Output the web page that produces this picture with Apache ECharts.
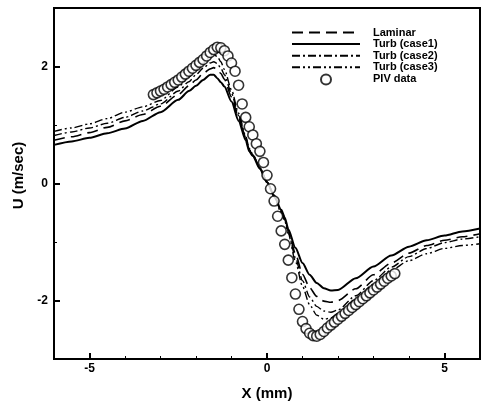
<!DOCTYPE html>
<html>
<head>
<meta charset="utf-8">
<script src="https://cdn.jsdelivr.net/npm/echarts@6/dist/echarts.min.js"></script>
<style>
  html, body { margin: 0; padding: 0; background: #fff; }
  #chart { width: 482px; height: 408px; }
</style>
</head>
<body>
<div id="chart"></div>
<script>
// x positions (mm) shared by the four computed profiles
const lineX = [-6, -5.5, -5, -4.5, -4, -3.5, -3, -2.5, -2.2, -2, -1.8, -1.6, -1.5, -1.4, -1.3, -1.2, -1.0, -0.8, -0.6, -0.5,
  -0.4, -0.2, 0, 0.2, 0.4, 0.5, 0.6, 0.8, 1.0, 1.2, 1.4, 1.6, 1.8, 2.0, 2.5, 3.0, 3.5, 4.0, 4.5, 5.0, 5.5, 6.0]

const laminarY = [0.74, 0.80, 0.87, 0.96, 1.07, 1.18, 1.32, 1.52, 1.67, 1.77, 1.88, 1.96, 1.98, 1.95, 1.88, 1.78, 1.48, 1.12, 0.77, 0.57,
  0.48, 0.26, 0.03, -0.21, -0.47, -0.60, -0.80, -1.20, -1.55, -1.78, -1.93, -2.01, -2.03, -2.00, -1.80, -1.56, -1.36, -1.19, -1.06, -0.97, -0.91, -0.86]

const case1Y = [0.66, 0.72, 0.78, 0.86, 0.94, 1.07, 1.22, 1.43, 1.58, 1.67, 1.77, 1.86, 1.86, 1.80, 1.73, 1.66, 1.40, 1.07, 0.74, 0.55,
  0.47, 0.25, 0.02, -0.20, -0.45, -0.58, -0.78, -1.10, -1.36, -1.56, -1.70, -1.79, -1.83, -1.82, -1.62, -1.42, -1.23, -1.08, -0.97, -0.89, -0.82, -0.77]

const case2Y = [0.82, 0.88, 0.95, 1.03, 1.13, 1.24, 1.36, 1.58, 1.74, 1.86, 1.97, 2.06, 2.08, 2.05, 1.97, 1.86, 1.54, 1.16, 0.79, 0.58,
  0.49, 0.27, 0.03, -0.22, -0.48, -0.62, -0.83, -1.27, -1.66, -1.94, -2.10, -2.18, -2.20, -2.16, -1.92, -1.66, -1.43, -1.25, -1.11, -1.01, -0.95, -0.91]

const case3Y = [0.89, 0.95, 1.02, 1.11, 1.22, 1.31, 1.42, 1.65, 1.82, 1.95, 2.07, 2.17, 2.20, 2.17, 2.08, 1.95, 1.60, 1.20, 0.81, 0.60,
  0.50, 0.27, 0.03, -0.23, -0.50, -0.64, -0.86, -1.33, -1.76, -2.07, -2.25, -2.32, -2.30, -2.22, -1.98, -1.72, -1.48, -1.32, -1.20, -1.11, -1.06, -1.03]

// PIV measurements
const pivX = [-3.2, -3.1, -3.0, -2.9, -2.8, -2.7, -2.6, -2.5, -2.4, -2.3, -2.2, -2.1, -2.0, -1.9, -1.8, -1.7, -1.6, -1.5, -1.4, -1.3,
  -1.2, -1.1, -1.0, -0.9, -0.8, -0.7, -0.6, -0.5, -0.4, -0.3, -0.2, -0.1, 0.0, 0.1, 0.2, 0.3, 0.4, 0.5, 0.6, 0.7,
  0.8, 0.9, 1.0, 1.1, 1.2, 1.3, 1.4, 1.5, 1.6, 1.7, 1.8, 1.9, 2.0, 2.1, 2.2, 2.3, 2.4, 2.5, 2.6, 2.7,
  2.8, 2.9, 3.0, 3.1, 3.2, 3.3, 3.4, 3.5, 3.6]
const pivY = [1.52, 1.55, 1.58, 1.61, 1.65, 1.69, 1.73, 1.77, 1.82, 1.87, 1.92, 1.97, 2.02, 2.07, 2.12, 2.18, 2.24, 2.29, 2.33, 2.32,
  2.27, 2.18, 2.06, 1.92, 1.68, 1.36, 1.13, 0.97, 0.83, 0.68, 0.55, 0.36, 0.14, -0.09, -0.30, -0.56, -0.81, -1.04, -1.31, -1.61,
  -1.89, -2.15, -2.36, -2.48, -2.56, -2.60, -2.61, -2.58, -2.53, -2.47, -2.42, -2.37, -2.32, -2.27, -2.22, -2.17, -2.12, -2.07, -2.02, -1.97,
  -1.92, -1.87, -1.82, -1.77, -1.72, -1.67, -1.62, -1.58, -1.54]

// ticks
const xMajor = [-5, 0, 5]
const xMinor = [-4, -3, -2, -1, 1, 2, 3, 4]
const yMajor = [-2, 0, 2]
const yMinor = [-1, 1]

const font = 'Liberation Sans, Arial, Helvetica, sans-serif'
const pairs = (xs, ys) => xs.map((x, i) => [x, ys[i]])

const lineSeries = (name, ys, type, width) => ({
  name,
  type: 'line',
  data: pairs(lineX, ys),
  symbol: 'none',
  smooth: 0.25,
  smoothMonotone: 'x',
  itemStyle: { color: '#000', opacity: 0 }, // 图例里不显示圆点
  lineStyle: { color: '#000', width, type },
  z: 2,
})

const chart = echarts.init(document.getElementById('chart'), null, { renderer: 'canvas' })

chart.setOption({
  animation: false,
  backgroundColor: '#fff',
  grid: { left: 54, right: 2, top: 8, bottom: 49, show: true, borderColor: '#000', borderWidth: 2, backgroundColor: 'transparent' },
  legend: {
    orient: 'vertical',
    left: 291,
    top: 27,
    padding: 0,
    itemWidth: 68,
    itemHeight: 10,
    itemGap: 0.6,
    textStyle: { color: '#000', fontFamily: font, fontWeight: 'bold', fontSize: 11, padding: [0, 0, 0, 8] },
    data: ['Laminar', 'Turb (case1)', 'Turb (case2)', 'Turb (case3)', 'PIV data'],
  },
  xAxis: [
    {
      type: 'value', min: -6, max: 6, position: 'bottom',
      axisLine: { show: true, onZero: false, lineStyle: { color: '#000', width: 2 } },
      axisTick: { show: true, inside: true, length: 6, customValues: xMajor, lineStyle: { color: '#000', width: 2 } },
      axisLabel: { customValues: xMajor, color: '#000', fontFamily: font, fontWeight: 'bold', fontSize: 12, margin: 4 },
      splitLine: { show: false },
      name: 'X (mm)', nameLocation: 'middle', nameGap: 27,
      nameTextStyle: { color: '#000', fontFamily: font, fontWeight: 'bold', fontSize: 15 },
    },
    {
      type: 'value', min: -6, max: 6, position: 'bottom',
      axisLine: { show: false, onZero: false },
      axisTick: { show: true, inside: true, length: 3, customValues: xMinor, lineStyle: { color: '#000', width: 1 } },
      axisLabel: { show: false },
      splitLine: { show: false },
    },
  ],
  yAxis: [
    {
      type: 'value', min: -3, max: 3, position: 'left',
      axisLine: { show: true, onZero: false, lineStyle: { color: '#000', width: 2 } },
      axisTick: { show: true, inside: true, length: 6, customValues: yMajor, lineStyle: { color: '#000', width: 2 } },
      axisLabel: { customValues: yMajor, color: '#000', fontFamily: font, fontWeight: 'bold', fontSize: 12, margin: 6 },
      splitLine: { show: false },
      name: 'U (m/sec)', nameLocation: 'middle', nameGap: 26,
      nameTextStyle: { color: '#000', fontFamily: font, fontWeight: 'bold', fontSize: 15, padding: [0, 0, 0, 16] },
    },
    {
      type: 'value', min: -3, max: 3, position: 'left',
      axisLine: { show: false, onZero: false },
      axisTick: { show: true, inside: true, length: 3, customValues: yMinor, lineStyle: { color: '#000', width: 1 } },
      axisLabel: { show: false },
      splitLine: { show: false },
    },
  ],
  series: [
    lineSeries('Laminar', laminarY, [11, 6], 1.6),
    lineSeries('Turb (case1)', case1Y, 'solid', 2),
    lineSeries('Turb (case2)', case2Y, [8, 3, 2, 3], 1.4),
    lineSeries('Turb (case3)', case3Y, [8, 3, 2, 3, 2, 3], 1.4),
    {
      name: 'PIV data',
      type: 'scatter',
      data: pairs(pivX, pivY),
      symbol: 'circle',
      symbolSize: 10,
      itemStyle: { color: '#fff', borderColor: '#000', borderWidth: 1.6 },
      z: 3,
    },
  ],
})
</script>
</body>
</html>
